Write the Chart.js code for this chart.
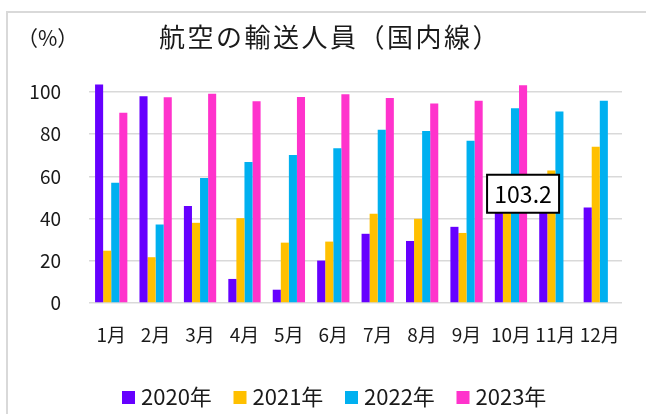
<!DOCTYPE html>
<html>
<head>
<meta charset="utf-8">
<script src="https://cdn.jsdelivr.net/npm/chart.js@4.4.1/dist/chart.umd.min.js"></script>
<style>
  html, body { margin: 0; padding: 0; background: #fff; }
  #wrap { position: relative; width: 646px; height: 414px; }
</style>
</head>
<body>
<div id="wrap"><canvas id="chartCanvas" width="646" height="414"></canvas></div>
<script>
var months = ['1月','2月','3月','4月','5月','6月','7月','8月','9月','10月','11月','12月'];
var years = ['2020年','2021年','2022年','2023年'];
var colors = ['#6600FF','#FFC000','#00B0F0','#FF33CC'];

var v2020 = [103.5, 98.0, 46.0, 11.4, 6.3, 20.1, 32.8, 29.4, 36.1, 48.0, 56.0, 45.3];
var v2021 = [24.8, 21.7, 38.0, 40.2, 28.6, 29.1, 42.3, 39.9, 33.2, 49.0, 62.8, 74.1];
var v2022 = [57.0, 37.2, 59.3, 66.8, 70.1, 73.3, 82.1, 81.5, 76.9, 92.3, 90.7, 95.9];
var v2023 = [90.2, 97.5, 99.2, 95.6, 97.6, 98.9, 97.2, 94.5, 95.9, 103.2, null, null];

var yTicks = [0, 20, 40, 60, 80, 100];

var font = '"Noto Sans CJK JP", "Noto Sans", sans-serif';

// frame, titles, legend and the value callout
var decorations = {
  id: 'decorations',
  beforeDraw: function(chart) {
    var c = chart.ctx;
    c.save();
    c.fillStyle = '#fff';
    c.fillRect(0, 0, chart.width, chart.height);
    c.strokeStyle = '#d9d9d9';
    c.lineWidth = 2;
    c.beginPath();
    c.moveTo(7, chart.height);
    c.lineTo(7, 12);
    c.lineTo(chart.width, 12);
    c.stroke();
    c.restore();
  },
  afterDraw: function(chart) {
    var c = chart.ctx;
    c.save();
    c.fillStyle = '#1a1a1a';
    c.textBaseline = 'middle';

    c.font = '26px ' + font;
    c.letterSpacing = '2.5px';
    c.textAlign = 'center';
    c.fillText('航空の輸送人員（国内線）', 330, 37);
    c.letterSpacing = '0px';

    c.font = '21px ' + font;
    c.textAlign = 'left';
    c.fillText('（%）', 17, 38);

    // legend
    c.font = '22px ' + font;
    var x = 122;
    chart.data.datasets.forEach(function(ds) {
      c.fillStyle = ds.backgroundColor;
      c.fillRect(x, 391, 13, 13);
      c.fillStyle = '#1a1a1a';
      c.fillText(ds.label, x + 19, 397);
      x += 111.5;
    });

    // value label for October 2023, centred on its bar
    var i = 9;
    var bar = chart.getDatasetMeta(3).data[i];
    var cx = bar.x;
    var cy = (bar.y + bar.base) / 2;
    var w = 72, h = 38;
    c.fillStyle = '#fff';
    c.fillRect(cx - w / 2, cy - h / 2, w, h);
    c.strokeStyle = '#000';
    c.lineWidth = 2;
    c.strokeRect(cx - w / 2, cy - h / 2, w, h);
    c.fillStyle = '#000';
    c.font = '23px ' + font;
    c.textAlign = 'center';
    c.fillText(String(v2023[i]), cx, cy + 1);
    c.restore();
  }
};

var series = [v2020, v2021, v2022, v2023];
var datasets = series.map(function(vals, k) {
  return {
    label: years[k],
    data: vals,
    backgroundColor: colors[k],
    borderWidth: 0,
    categoryPercentage: 0.727,
    barPercentage: 1.0,
    clip: false
  };
});

var ctx = document.getElementById('chartCanvas');
var barGraph = new Chart(ctx, {
  type: 'bar',
  data: { labels: months, datasets: datasets },
  plugins: [decorations],
  options: {
    responsive: false,
    animation: false,
    layout: { padding: { top: 92, left: 0, right: 24, bottom: 61 } },
    plugins: {
      legend: { display: false },
      title: { display: false },
      tooltip: { enabled: false }
    },
    scales: {
      x: {
        grid: { display: false, drawTicks: false },
        border: { display: false },
        ticks: { color: '#1a1a1a', font: { family: font, size: 19 }, padding: 20, maxRotation: 0, autoSkip: false },
        afterFit: function(s) { s.height = 50; }
      },
      y: {
        min: 0,
        max: 100,
        afterBuildTicks: function(s) { s.ticks = yTicks.map(function(v) { return { value: v }; }); },
        grid: { color: '#d9d9d9', lineWidth: 1.5, drawTicks: false },
        border: { display: false },
        ticks: { color: '#1a1a1a', font: { family: font, size: 19 }, padding: 28 },
        afterFit: function(s) { s.width = 89; }
      }
    }
  }
});
</script>
</body>
</html>
